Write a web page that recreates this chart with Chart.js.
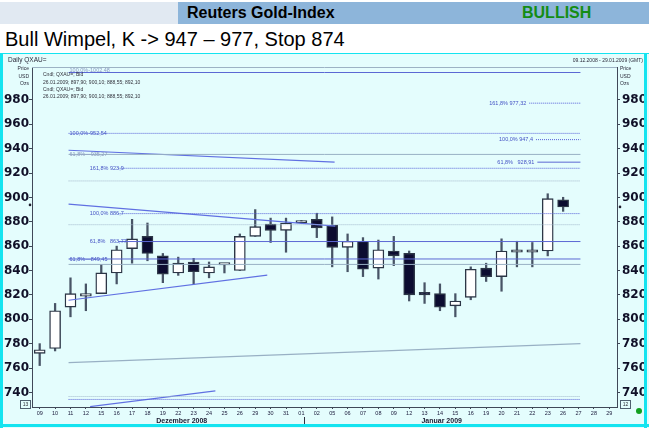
<!DOCTYPE html>
<html>
<head>
<meta charset="utf-8">
<script src="https://cdn.jsdelivr.net/npm/chart.js@4.4.0/dist/chart.umd.min.js"></script>
<style>
  body { margin: 0; width: 649px; height: 428px; background: #fff; overflow: hidden; position: relative; font-family: 'Liberation Sans', Arial, sans-serif; }
  #band { position: absolute; left: 0; top: 2px; width: 649px; height: 22px; background: #e1e9f2; }
  #band .blue { position: absolute; left: 178px; top: 0; width: 471px; height: 22px; background: #8db5da; }
  #title { position: absolute; left: 187px; top: 2px; font: bold 16px 'Liberation Sans', Arial, sans-serif; line-height: 22px; color: #000; }
  #bull { position: absolute; left: 522px; top: 2px; font: bold 16px 'Liberation Sans', Arial, sans-serif; line-height: 22px; color: #148c14; }
  #sub { position: absolute; left: 5px; top: 27px; font: 20px 'Liberation Sans', Arial, sans-serif; line-height: 24px; color: #000; }
  #box { position: absolute; left: 0; top: 53px; width: 649px; height: 375px; background: #e4fdfd; }
</style>
</head>
<body>
<div id="band"><div class="blue"></div></div>
<div id="title">Reuters Gold-Index</div>
<div id="bull">BULLISH</div>
<div id="sub">Bull Wimpel, K -&gt; 947 – 977, Stop 874</div>
<div id="box"><canvas id="chart" width="649" height="375"></canvas></div>
<script>
// trading days shown on the axis (last three without candles)
const days = [
    '2008-12-09', '2008-12-10', '2008-12-11', '2008-12-12', '2008-12-15', '2008-12-16', '2008-12-17',
    '2008-12-18', '2008-12-19', '2008-12-22', '2008-12-23', '2008-12-24', '2008-12-25', '2008-12-26',
    '2008-12-29', '2008-12-30', '2008-12-31', '2009-01-01', '2009-01-02', '2009-01-05', '2009-01-06',
    '2009-01-07', '2009-01-08', '2009-01-09', '2009-01-12', '2009-01-13', '2009-01-14', '2009-01-15',
    '2009-01-16', '2009-01-19', '2009-01-20', '2009-01-21', '2009-01-22', '2009-01-23', '2009-01-26',
    '2009-01-27', '2009-01-28', '2009-01-29'
];
const opens  = [772, 776, 810, 819, 821, 838, 858, 868, 852, 838, 847, 838, 844.5, 840, 868, 878, 873, 879, 882,
                877, 859, 864, 842, 856, 854, 822, 821, 811, 818, 842, 835, 855, 855, 856, 897.9, null, null, null];
const highs  = [780, 813, 834, 829, 845, 860, 882, 879, 854, 851, 850, 847, 845, 870, 890, 883, 883, 881, 887,
                884, 870, 867, 865, 868, 856, 830, 829, 821, 843, 846, 866, 864, 863, 903, 900.1, null, null, null];
const lows   = [762, 774, 802, 807, 821, 829, 846, 848, 830, 836, 829, 834, 838, 840, 868, 863, 855, 879, 867,
                843, 839, 835, 833, 844, 815, 813, 807, 802, 816, 831, 823, 843, 843, 852, 888.55, null, null, null];
const closes = [775, 807, 821, 821, 838, 857, 866, 854, 837, 846, 839, 843, 845, 868, 876, 873, 879, 880.5, 875,
                859, 864, 841, 857, 852, 820, 820, 810, 815, 841, 835, 856, 855.5, 857, 899, 892.1, null, null, null];

const yTicks = [740, 760, 780, 800, 820, 840, 860, 880, 900, 920, 940, 960, 980];

// horizontal fibonacci levels: value, start (day index), label and where the label sits
const levels     = [1002.48, 952.54, 935.27, 923.9, 913.5, 886.7, 877.6, 863.77, 849.45, 845, 736.6, 734.2, 977.32, 947.4, 928.91];
const levelFrom  = [-0.5, -0.5, -0.5, 3.2, -0.5, 3.2, -0.5, 3.2, -0.5, -0.5, -0.5, -0.5, 33.7, 34.2, 34.3];
const levelText  = ['100,0%-1002,48', '100,0%-952,54', '61,8%\u2014935,27', '161,8% 923,9', '', '100,0% 886,7', '',
                    '61,8%   863,77', '61,8%\u2014849,45', '', '', '', '161,8% 977,32', '100,0% 947,4', '61,8%   928,91'];
const levelTextX = [-0.5, -0.5, -0.5, 1.0, null, 1.0, null, 1.0, -0.5, null, null, null, 33.7, 34.2, 34.3];
const levelStyle = ['blue', 'blueDot', 'grey', 'blueDot', 'greyDot', 'blueDot', 'greyDot', 'blue', 'blue', 'grey',
                    'greyDot', 'blueDot', 'blueDot', 'blueDot', 'blue'];

// trend lines of the pennant and channel (start/end as day index, price)
const trendX1 = [-0.5, -0.5, -0.5, -0.5, 1.1];
const trendY1 = [938.7, 894.5, 815.6, 764.4, 728.3];
const trendX2 = [19.25, 19.3, 14.25, 37.5, 10.4];
const trendY2 = [929, 876.5, 836.2, 780, 741.3];
const trendStyle = ['trend', 'trend', 'trend', 'grey', 'trend'];

const lineStyles = {
    blue:    { color: '#5b68d4', dash: [] },
    blueDot: { color: '#5560d8', dash: [1, 1] },
    grey:    { color: '#98b0c4', dash: [] },
    greyDot: { color: '#a4b8cc', dash: [1, 1] },
    trend:   { color: '#6070e2', dash: [] }
};

const lineSets = [];
levels.forEach((v, i) => {
    const st = lineStyles[levelStyle[i]];
    lineSets.push({
        type: 'line', xAxisID: 'xl', yAxisID: 'y', order: 0,
        data: [{ x: levelFrom[i], y: v }, { x: 37.5, y: v }],
        borderColor: st.color, borderDash: st.dash, borderWidth: 1, pointRadius: 0
    });
});
trendX1.forEach((x, i) => {
    const st = lineStyles[trendStyle[i]];
    lineSets.push({
        type: 'line', xAxisID: 'xl', yAxisID: 'y', order: 0,
        data: [{ x: x, y: trendY1[i] }, { x: trendX2[i], y: trendY2[i] }],
        borderColor: st.color, borderDash: st.dash, borderWidth: 1.2, pointRadius: 0
    });
});

const wickData = days.map((d, i) => opens[i] == null ? null : [lows[i], highs[i]]);
const bodyData = days.map((d, i) => opens[i] == null ? null : [opens[i], closes[i]]);
const bodyColors = days.map((d, i) => closes[i] >= opens[i] ? '#ffffff' : '#0c0c30');

const labelColors = { blue: '#4452c4', grey: '#8a98c0' };

const decor = {
    id: 'decor',
    afterDraw(chart) {
        const ctx = chart.ctx, a = chart.chartArea, xs = chart.scales.xl, ys = chart.scales.y;
        ctx.save();
        // frame top line
        ctx.strokeStyle = '#9cb2c4';
        ctx.lineWidth = 1;
        ctx.beginPath();
        ctx.moveTo(a.left, a.top + 0.5);
        ctx.lineTo(a.right, a.top + 0.5);
        ctx.stroke();

        // level labels
        ctx.font = '5.5px "Liberation Sans", Arial';
        ctx.textBaseline = 'middle';
        levels.forEach((v, i) => {
            if (!levelText[i]) return;
            const right = levelFrom[i] > 30;
            ctx.textAlign = right ? 'right' : 'left';
            ctx.fillStyle = (i === 0 || i === 2) ? labelColors.grey : labelColors.blue;
            const px = xs.getPixelForValue(levelTextX[i]) + (right ? -3 : 1);
            ctx.fillText(levelText[i], px, ys.getPixelForValue(v) - (i === 0 ? 2 : 0));
        });

        // header texts of the chart box
        ctx.fillStyle = '#2a2a3a';
        ctx.textAlign = 'left';
        ctx.font = '6.5px "Liberation Sans", Arial';
        ctx.fillText('Daily QXAU=', 8, 7);
        ctx.font = '5px "Liberation Sans", Arial';
        ctx.textAlign = 'right';
        ctx.fillText('09.12.2008 - 29.01.2009 (GMT)', 643, 8);
        ['Price', 'USD', 'Ozs'].forEach((t, k) => {
            ctx.textAlign = 'right';
            ctx.fillText(t, 29, 16 + k * 7.5);
            ctx.textAlign = 'left';
            ctx.fillText(t, 620, 16 + k * 7.5);
        });
        ctx.textAlign = 'left';
        ctx.fillStyle = '#30303a';
        const leg = ['Cndl; QXAU=; Bid', '26.01.2009; 897,90; 900,10; 888,55; 892,10'];
        [0, 1, 0, 1].forEach((k, j) => ctx.fillText(leg[k], 43, 22 + j * 7.3));

        // small boxes at the bottom corners
        ctx.strokeStyle = '#506070';
        ctx.lineWidth = 1;
        [[20.5, '13'], [620.5, '12']].forEach(([bx, t]) => {
            ctx.strokeRect(bx, a.bottom - 6.5, 10, 8);
            ctx.textAlign = 'center';
            ctx.fillText(t, bx + 5, a.bottom - 2.5);
        });

        // last price markers
        ctx.fillStyle = '#202030';
        const yl = ys.getPixelForValue(893);
        ctx.beginPath(); ctx.arc(30, yl - 1, 1.3, 0, Math.PI * 2); ctx.fill();
        ctx.beginPath(); ctx.arc(620, yl + 1, 1.3, 0, Math.PI * 2); ctx.fill();

        // month captions
        ctx.fillStyle = '#1a1a30';
        ctx.font = 'bold 7px "Liberation Sans", Arial';
        ctx.textAlign = 'center';
        ctx.fillText('Dezember 2008', xs.getPixelForValue(7.9), a.bottom + 14);
        ctx.fillText('Januar 2009', xs.getPixelForValue(27.2), a.bottom + 14);
        ctx.strokeStyle = '#303040';
        const sx = Math.round(xs.getPixelForValue(17)) + 0.5;
        ctx.beginPath(); ctx.moveTo(sx, a.bottom + 10); ctx.lineTo(sx, a.bottom + 19); ctx.stroke();

        // green status dot
        ctx.fillStyle = '#12a020';
        ctx.beginPath(); ctx.arc(639, a.bottom + 4, 3, 0, Math.PI * 2); ctx.fill();

        // cyan frame of the box
        ctx.fillStyle = '#14e4f0';
        ctx.fillRect(0, 0, 3, 375);
        ctx.fillRect(644, 0, 3, 375);
        ctx.fillRect(0, 0, 649, 1);
        ctx.fillRect(0, 371, 649, 3);
        ctx.restore();
    }
};

Chart.defaults.font.family = "'Liberation Sans', Arial, sans-serif";

new Chart(document.getElementById('chart'), {
    type: 'bar',
    data: {
        labels: days,
        datasets: [
            ...lineSets,
            { data: bodyData, backgroundColor: bodyColors, borderColor: '#2c3646', borderWidth: 1.4,
              borderSkipped: false, barThickness: 11, minBarLength: 2.5, grouped: false, order: 1 },
            { data: wickData, backgroundColor: '#485466', barThickness: 1.6, grouped: false, order: 2 }
        ]
    },
    options: {
        responsive: false,
        animation: false,
        events: [],
        layout: { padding: { top: 14, left: 0, right: 0, bottom: 0 } },
        plugins: { legend: { display: false }, tooltip: { enabled: false } },
        scales: {
            x: {
                type: 'category', offset: true,
                grid: { drawOnChartArea: false, offset: false, tickLength: 2, color: '#404858' },
                border: { color: '#404858' },
                ticks: {
                    autoSkip: false, maxRotation: 0, minRotation: 0, padding: 1,
                    font: { size: 5.5 }, color: '#202040',
                    callback: (v, i) => days[i].slice(8)
                },
                afterFit: s => { s.height = 21; }
            },
            xl: { type: 'linear', min: -0.5, max: 37.5, display: false },
            y: {
                position: 'left', min: 728, max: 1007,
                afterBuildTicks: s => { s.ticks = yTicks.map(v => ({ value: v })); },
                grid: { drawOnChartArea: false, tickLength: 3, color: '#404858' },
                border: { color: '#404858' },
                ticks: { padding: 0, color: '#101028', font: { family: "'DejaVu Sans'", weight: 'bold', size: 12 } },
                afterFit: s => { s.width = 32; }
            },
            y2: {
                position: 'right', min: 728, max: 1007,
                afterBuildTicks: s => { s.ticks = yTicks.map(v => ({ value: v })); },
                grid: { drawOnChartArea: false, tickLength: 3, color: '#404858' },
                border: { color: '#404858' },
                ticks: { padding: 2, color: '#101028', font: { family: "'DejaVu Sans'", weight: 'bold', size: 12 } },
                afterFit: s => { s.width = 32; }
            }
        }
    },
    plugins: [decor]
});
</script>
</body>
</html>
